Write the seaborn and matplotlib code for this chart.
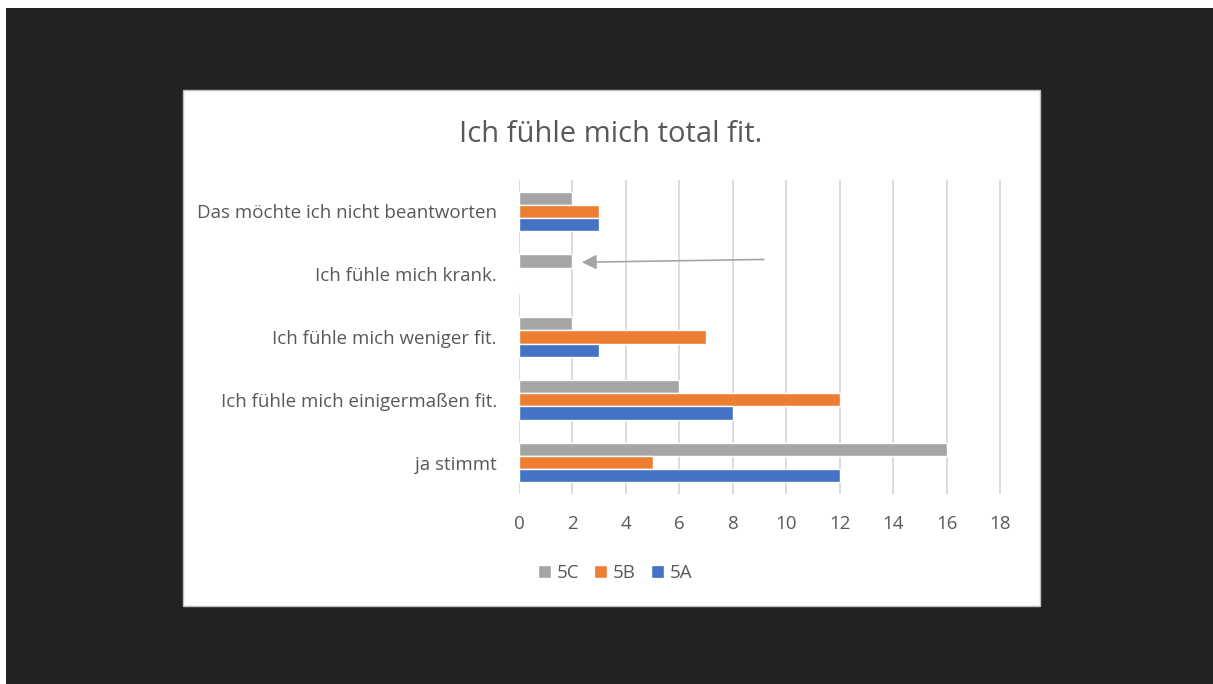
import matplotlib
matplotlib.use('Agg')
from matplotlib import pyplot as plt
from matplotlib.patches import Rectangle
import seaborn as sns
import pandas as pd

# dados
antworten = ['Das möchte ich nicht beantworten', 'Ich fühle mich krank.',
             'Ich fühle mich weniger fit.', 'Ich fühle mich einigermaßen fit.', 'ja stimmt']
klassen = ['5C', '5B', '5A']
werte_5c = [2, 2, 2, 6, 16]
werte_5b = [3, 0, 7, 12, 5]
werte_5a = [3, 0, 3, 8, 12]
x_ticks = [0, 2, 4, 6, 8, 10, 12, 14, 16, 18]

df = pd.DataFrame({
    'antwort': antworten * 3,
    'klasse': [k for k in klassen for _ in antworten],
    'wert': werte_5c + werte_5b + werte_5a,
})

cores = {'5C': '#A5A5A5', '5B': '#ED7D31', '5A': '#4472C4'}
texto = '#595959'

sns.set_style('white')
plt.rcParams['font.family'] = ['Open Sans', 'DejaVu Sans']

fig = plt.figure(figsize=(12.13, 6.84), dpi=100, facecolor='white')
W, H = 1213, 684

# fundo escuro e painel branco
fig.patches.append(Rectangle((6 / W, 0), 1 - 6 / W, 1 - 8 / H, transform=fig.transFigure,
                             facecolor='#222222', edgecolor='none', zorder=-3))
fig.patches.append(Rectangle((183 / W, 1 - 606 / H), (1040 - 183) / W, (606 - 90) / H,
                             transform=fig.transFigure, facecolor='white',
                             edgecolor='#BFBFBF', linewidth=1, zorder=-2))

ax = fig.add_axes([519 / W, 1 - 494 / H, 484 / W, 314 / H])
ax.set_facecolor('none')

sns.barplot(data=df, x='wert', y='antwort', hue='klasse', order=antworten,
            hue_order=klassen, palette=cores, orient='h', width=0.63,
            saturation=1, ax=ax, zorder=3)

ax.set_xlim(0, 18.1)
ax.set_xticks(x_ticks)
ax.set_xticklabels([str(t) for t in x_ticks], fontsize=13.5, color=texto)
ax.tick_params(axis='y', labelsize=13.5, labelcolor=texto, length=0, pad=16)
ax.tick_params(axis='x', length=0, pad=15)
ax.xaxis.grid(True, color='#D9D9D9', linewidth=1.3, zorder=0)
ax.set_axisbelow(True)
for s in ax.spines.values():
    s.set_visible(False)
ax.set_xlabel('')
ax.set_ylabel('')

# seta cinza
ax.annotate('', xy=(2.35, 0.81), xytext=(9.15, 0.765),
            arrowprops=dict(arrowstyle='-|>', color='#A5A5A5', lw=1.2,
                            mutation_scale=22, shrinkA=0, shrinkB=0))

handles, labels = ax.get_legend_handles_labels()
ax.legend(handles, labels, loc='center', bbox_to_anchor=(615 / W, 1 - 573 / H),
          bbox_transform=fig.transFigure, ncol=3, frameon=False, fontsize=13.5,
          labelcolor=texto, handlelength=0.7, handleheight=0.7, handletextpad=0.3,
          columnspacing=0.8)

fig.text(611 / W, 1 - 134 / H, 'Ich fühle mich total fit.', ha='center', va='center',
         fontsize=21, color=texto)

fig.savefig('out.png', dpi=100, facecolor=fig.get_facecolor())
